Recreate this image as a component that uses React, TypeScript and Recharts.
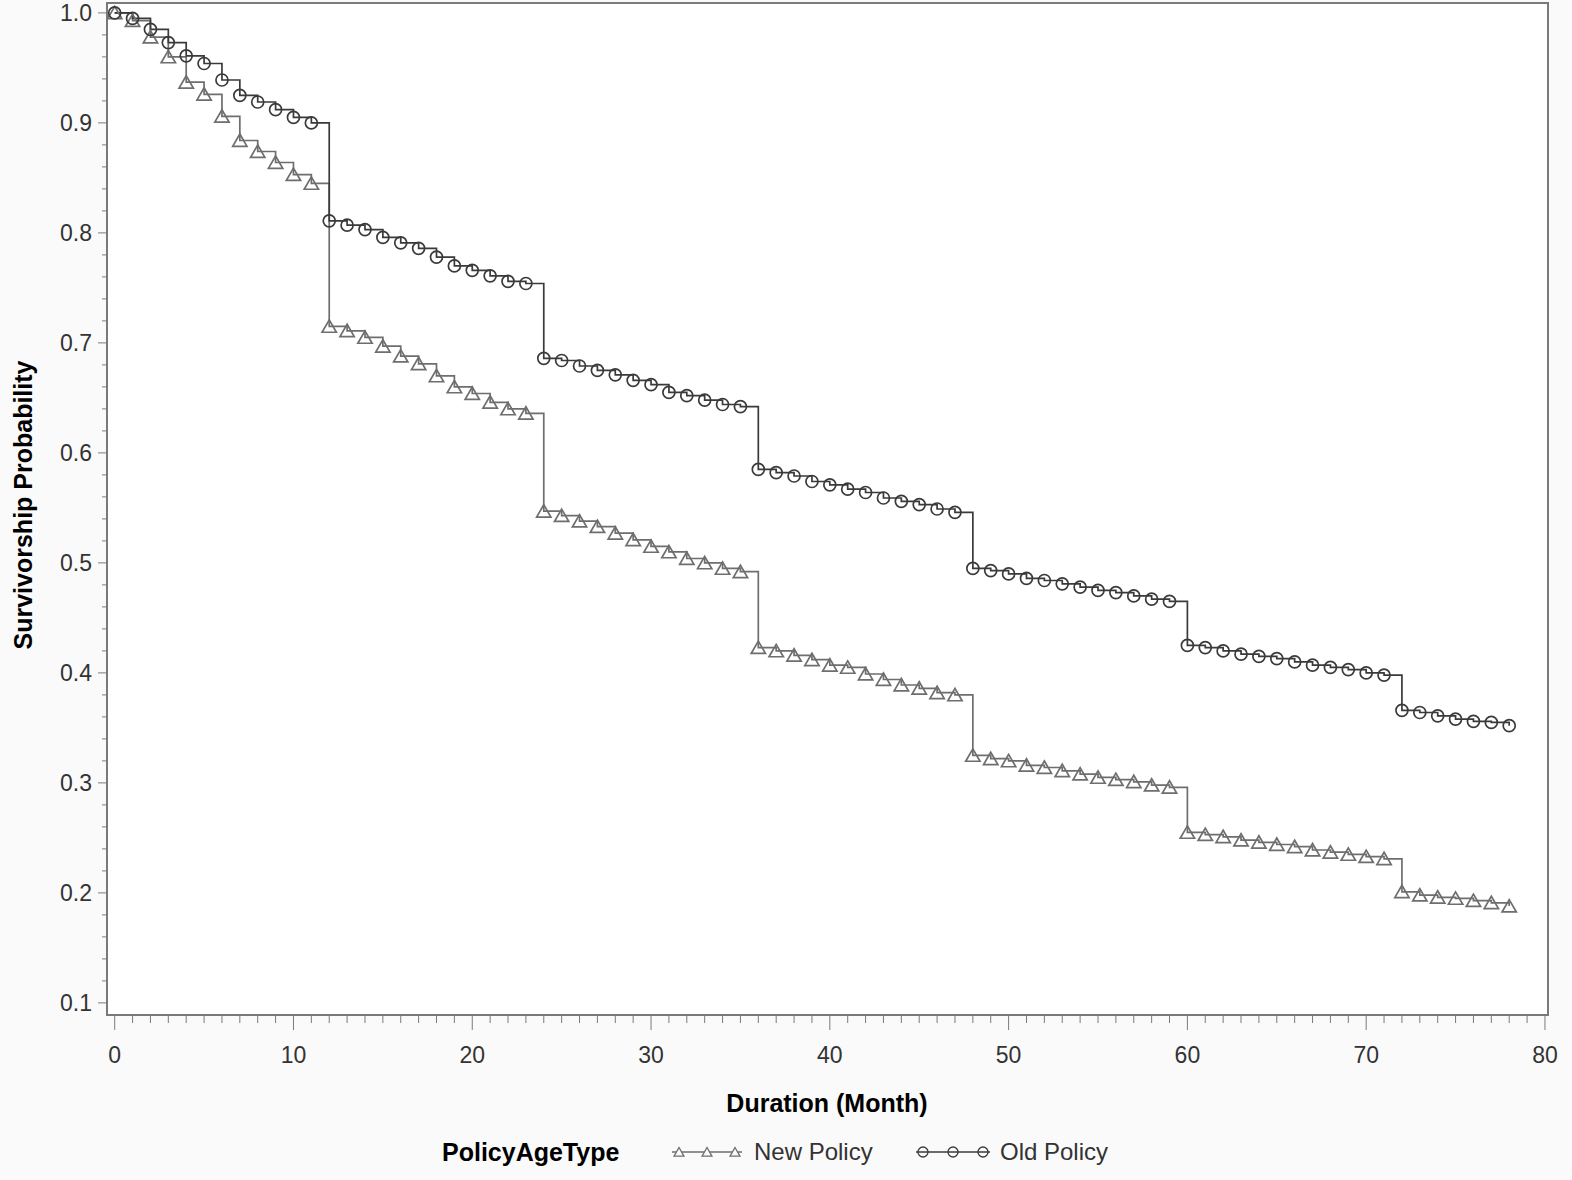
import { LineChart, Line, XAxis, YAxis, Label } from 'recharts';

const months = Array.from({ length: 79 }, (_, i) => i);

const oldPolicy = [
  1.0, 0.995, 0.985, 0.973, 0.961, 0.954, 0.939, 0.925, 0.919, 0.912, 0.905, 0.9,
  0.811, 0.807, 0.803, 0.796, 0.791, 0.786, 0.778, 0.77, 0.766, 0.761, 0.756, 0.754,
  0.686, 0.684, 0.679, 0.675, 0.671, 0.666, 0.662, 0.655, 0.652, 0.648, 0.644, 0.642,
  0.585, 0.582, 0.579, 0.574, 0.571, 0.567, 0.564, 0.559, 0.556, 0.553, 0.549, 0.546,
  0.495, 0.493, 0.49, 0.486, 0.484, 0.481, 0.478, 0.475, 0.473, 0.47, 0.467, 0.465,
  0.425, 0.423, 0.42, 0.417, 0.415, 0.413, 0.41, 0.407, 0.405, 0.403, 0.4, 0.398,
  0.366, 0.364, 0.361, 0.358, 0.356, 0.355, 0.352,
];

const newPolicy = [
  1.0, 0.993, 0.978, 0.96, 0.937, 0.926, 0.906, 0.884, 0.874, 0.864, 0.853, 0.845,
  0.715, 0.711, 0.705, 0.697, 0.688, 0.681, 0.67, 0.66, 0.654, 0.646, 0.64, 0.636,
  0.547, 0.543, 0.538, 0.533, 0.527, 0.521, 0.515, 0.51, 0.504, 0.5, 0.495, 0.492,
  0.423, 0.42, 0.416, 0.412, 0.407, 0.405, 0.399, 0.394, 0.389, 0.386, 0.382, 0.38,
  0.325, 0.322, 0.32, 0.316, 0.314, 0.311, 0.308, 0.305, 0.303, 0.301, 0.298, 0.296,
  0.255, 0.253, 0.251, 0.248, 0.246, 0.244, 0.242, 0.239, 0.237, 0.235, 0.233, 0.231,
  0.201, 0.198, 0.196, 0.195, 0.193, 0.191, 0.188,
];

// every month gets a tick, labels only on the tens
const xTicks = Array.from({ length: 81 }, (_, i) => i);
// minor ticks every 0.02, labels every 0.1
const yTicks = Array.from({ length: 46 }, (_, i) => Math.round((0.1 + i * 0.02) * 100) / 100);

const FONT = '"Liberation Sans", Arial, sans-serif';
const AXIS = '#7a7a7a';
const TEXT = '#333333';
const OLD_COLOR = '#3a3a3a';
const NEW_COLOR = '#6e6e6e';

const W = 1572;
const H = 1180;
const PLOT_LEFT = 107;
const PLOT_TOP = 3;
const PLOT_RIGHT = 1548;
const PLOT_BOTTOM = 1015;

const data = months.map((m, i) => ({
  month: m,
  newPolicy: newPolicy[i],
  oldPolicy: oldPolicy[i],
}));

function XTick(props: any) {
  const { x, y, payload } = props;
  const major = payload.value % 10 === 0;
  return (
    <g>
      <line x1={x} x2={x} y1={y} y2={y + (major ? 15 : 8)} stroke={AXIS} strokeWidth={1} />
      {major && (
        <text x={x} y={y + 48} textAnchor="middle" fontSize={23} fill={TEXT} fontFamily={FONT}>
          {payload.value}
        </text>
      )}
    </g>
  );
}

function YTick(props: any) {
  const { x, y, payload } = props;
  const major = Math.round(payload.value * 100) % 10 === 0;
  return (
    <g>
      <line x1={x - (major ? 9 : 5)} x2={x} y1={y} y2={y} stroke={AXIS} strokeWidth={1} />
      {major && (
        <text x={x - 15} y={y + 8} textAnchor="end" fontSize={23} fill={TEXT} fontFamily={FONT}>
          {payload.value.toFixed(1)}
        </text>
      )}
    </g>
  );
}

function triPath(cx: number, cy: number, s: number) {
  return `M${cx},${cy - s} L${cx + s * 1.1},${cy + s * 0.9} L${cx - s * 1.1},${cy + s * 0.9} Z`;
}

function TriangleDot(props: any) {
  const { cx, cy, index } = props;
  if (cx == null || cy == null) return <g key={`t-${index}`} />;
  return <path key={`t-${index}`} d={triPath(cx, cy, 6.5)} fill="none" stroke={NEW_COLOR} strokeWidth={1.7} />;
}

function CircleDot(props: any) {
  const { cx, cy, index } = props;
  if (cx == null || cy == null) return <g key={`c-${index}`} />;
  return <circle key={`c-${index}`} cx={cx} cy={cy} r={6} fill="none" stroke={OLD_COLOR} strokeWidth={1.7} />;
}

function LegendBar() {
  const cy = 1152;
  return (
    <svg width={W} height={60} style={{ position: 'absolute', left: 0, top: cy - 30 }}>
      <g transform="translate(0,30)">
        <text x={442} y={9} fontSize={25} fontWeight="bold" fill="#000" fontFamily={FONT}>
          PolicyAgeType
        </text>
        <line x1={672} x2={742} y1={0} y2={0} stroke={NEW_COLOR} strokeWidth={1.5} />
        {[679, 707, 735].map((x) => (
          <path key={x} d={triPath(x, 0, 4.5)} fill="#fafafa" stroke={NEW_COLOR} strokeWidth={1.3} />
        ))}
        <text x={754} y={8} fontSize={24} fill={TEXT} fontFamily={FONT}>
          New Policy
        </text>
        <line x1={916} x2={990} y1={0} y2={0} stroke={OLD_COLOR} strokeWidth={1.5} />
        {[923, 953, 983].map((x) => (
          <circle key={x} cx={x} cy={0} r={5} fill="none" stroke={OLD_COLOR} strokeWidth={1.3} />
        ))}
        <text x={1000} y={8} fontSize={24} fill={TEXT} fontFamily={FONT}>
          Old Policy
        </text>
      </g>
    </svg>
  );
}

export default function App() {
  return (
    <div
      style={{
        position: 'absolute',
        left: 0,
        top: 0,
        width: W,
        height: H,
        background: '#fafafa',
        fontFamily: FONT,
      }}
    >
      {/* white plot background with the frame */}
      <div
        style={{
          position: 'absolute',
          left: PLOT_LEFT - 1,
          top: PLOT_TOP - 1,
          width: PLOT_RIGHT - PLOT_LEFT + 2,
          height: PLOT_BOTTOM - PLOT_TOP + 2,
          boxSizing: 'border-box',
          border: `2px solid ${AXIS}`,
          background: '#ffffff',
        }}
      />
      <div style={{ position: 'absolute', left: 0, top: 0 }}>
        <LineChart
          width={W}
          height={H}
          data={data}
          margin={{ top: PLOT_TOP, right: W - PLOT_RIGHT, bottom: 0, left: 0 }}
        >
          <XAxis
            dataKey="month"
            type="number"
            domain={[-0.43, 80.17]}
            allowDataOverflow
            ticks={xTicks}
            interval={0}
            tick={<XTick />}
            tickLine={false}
            tickSize={0}
            tickMargin={0}
            axisLine={{ stroke: AXIS, strokeWidth: 1.5 }}
            height={H - PLOT_BOTTOM}
          >
            <Label
              content={() => (
                <text
                  x={827}
                  y={1112}
                  textAnchor="middle"
                  fontSize={25}
                  fontWeight="bold"
                  fill="#000"
                  fontFamily={FONT}
                >
                  Duration (Month)
                </text>
              )}
            />
          </XAxis>
          <YAxis
            type="number"
            domain={[0.089, 1.009]}
            allowDataOverflow
            ticks={yTicks}
            interval={0}
            tick={<YTick />}
            tickLine={false}
            tickSize={0}
            tickMargin={0}
            axisLine={{ stroke: AXIS, strokeWidth: 1.5 }}
            width={PLOT_LEFT}
          >
            <Label
              content={() => (
                <text
                  x={23}
                  y={505}
                  transform="rotate(-90 23 505)"
                  textAnchor="middle"
                  dominantBaseline="central"
                  fontSize={25}
                  fontWeight="bold"
                  fill="#000"
                  fontFamily={FONT}
                >
                  Survivorship Probability
                </text>
              )}
            />
          </YAxis>
          <Line
            type="stepAfter"
            dataKey="newPolicy"
            stroke={NEW_COLOR}
            strokeWidth={1.7}
            dot={TriangleDot}
            activeDot={false}
            isAnimationActive={false}
          />
          <Line
            type="stepAfter"
            dataKey="oldPolicy"
            stroke={OLD_COLOR}
            strokeWidth={1.7}
            dot={CircleDot}
            activeDot={false}
            isAnimationActive={false}
          />
        </LineChart>
      </div>
      <LegendBar />
    </div>
  );
}
